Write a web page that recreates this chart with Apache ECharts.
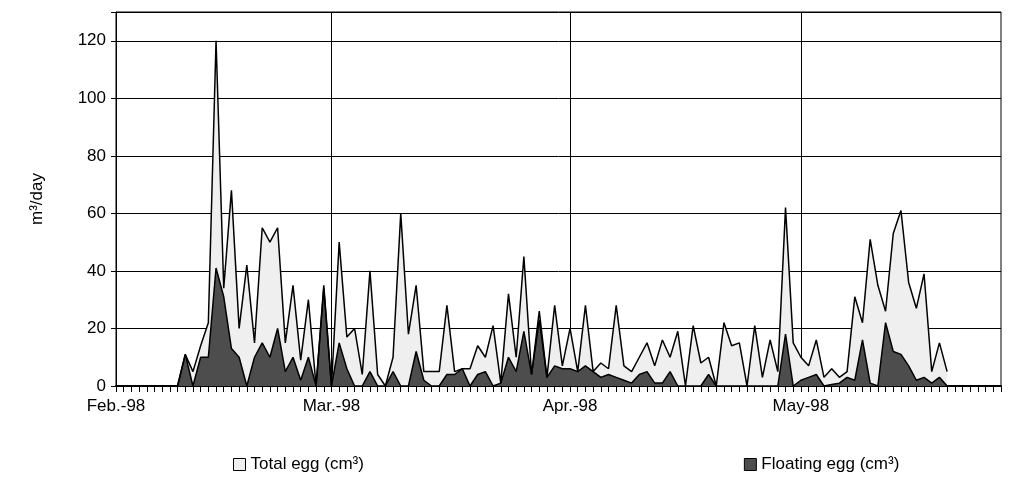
<!DOCTYPE html>
<html>
<head>
<meta charset="utf-8">
<script src="https://cdn.jsdelivr.net/npm/echarts@6/dist/echarts.min.js"></script>
<style>html,body{margin:0;padding:0;background:#fff}#main{width:1021px;height:490px}</style>
</head>
<body>
<div id="main"></div>
<script>
// daily values, Feb 1 1998 .. May 27 1998 (116 days)
var total = [0,0,0,0,0,0,0,0,0,11,5,14,22,120,34,68,20,42,15,55,50,55,15,35,9,30,0,35,
  0,50,17,20,4,40,4,0,10,60,18,35,5,5,5,28,5,6,6,14,10,21,1,32,10,45,4,26,3,28,7,20,5,
  28,5,8,6,28,7,5,10,15,7,16,10,19,0,21,8,10,0,22,14,15,0,21,3,16,5,62,15,10,7,16,3,6,3,5,
  31,22,51,35,26,53,61,36,27,39,5,15,5,null,null,null,null,null,null,null];
var floating = [0,0,0,0,0,0,0,0,0,11,0,10,10,41,31,13,10,0,10,15,10,20,5,10,2,10,0,34,
  0,15,6,0,0,5,0,0,5,0,0,12,2,0,0,4,4,6,0,4,5,0,1,10,5,19,4,23,3,7,6,6,5,
  7,5,3,4,3,2,1,4,5,1,1,5,0,0,0,0,4,0,0,0,0,0,0,0,0,0,18,0,2,3,4,0,0.5,1,3,
  2,16,1,0,22,12,11,7,2,3,1,3,0,null,null,null,null,null,null,null];
var monthIdx = {0:'Feb.-98', 28:'Mar.-98', 59:'Apr.-98', 89:'May-98'};
var days = [];
for (var i = 0; i < total.length; i++) days.push(String(i));

var myChart = echarts.init(document.getElementById('main'));
var option = {
  animation: false,
  textStyle: {fontFamily: 'Liberation Sans, Arial', color: '#000'},
  grid: {left: 116, right: 20, top: 12, bottom: 104, show: true, borderColor: '#000', borderWidth: 1},
  legend: {
    bottom: 12, left: 228, itemGap: 380, itemWidth: 12, itemHeight: 12,
    textStyle: {fontSize: 17, color: '#000', fontFamily: 'Liberation Sans, Arial'},
    data: [
      {name: 'Total egg (cm³)', icon: 'rect', itemStyle: {color: '#efefef', borderColor: '#000', borderWidth: 1}},
      {name: 'Floating egg (cm³)', icon: 'rect', itemStyle: {color: '#4d4d4d', borderColor: '#000', borderWidth: 1}}
    ]
  },
  xAxis: {
    type: 'category', boundaryGap: false, data: days,
    axisLine: {lineStyle: {color: '#000', width: 2}},
    axisTick: {interval: 0, length: 6, inside: false, lineStyle: {color: '#000'}},
    axisLabel: {
      interval: function (i) { return monthIdx[i] !== undefined; },
      formatter: function (v, i) { return monthIdx[i] || ''; },
      fontSize: 17, color: '#000', margin: 12
    },
    splitLine: {show: true, interval: function (i) { return monthIdx[i] !== undefined; }, lineStyle: {color: '#000', width: 1}}
  },
  yAxis: {
    type: 'value', min: 0, max: 130, interval: 20,
    name: 'm³/day', nameLocation: 'middle', nameGap: 70, nameRotate: 90,
    nameTextStyle: {fontSize: 17, color: '#000'},
    axisLine: {show: true, lineStyle: {color: '#000'}},
    axisTick: {show: true, length: 5, lineStyle: {color: '#000'}},
    axisLabel: {fontSize: 17, color: '#000', margin: 10,
      formatter: function (v) { return v > 120 ? '' : v; }},
    splitLine: {show: true, lineStyle: {color: '#000', width: 1}}
  },
  series: [
    {name: 'Total egg (cm³)', type: 'line', data: total, symbol: 'none',
     lineStyle: {color: '#000', width: 1.5}, areaStyle: {color: '#efefef', opacity: 1},
     itemStyle: {color: '#efefef'}},
    {name: 'Floating egg (cm³)', type: 'line', data: floating, symbol: 'none',
     lineStyle: {color: '#000', width: 1.5}, areaStyle: {color: '#4d4d4d', opacity: 1},
     itemStyle: {color: '#4d4d4d'}}
  ]
};
myChart.setOption(option);
</script>
</body>
</html>
